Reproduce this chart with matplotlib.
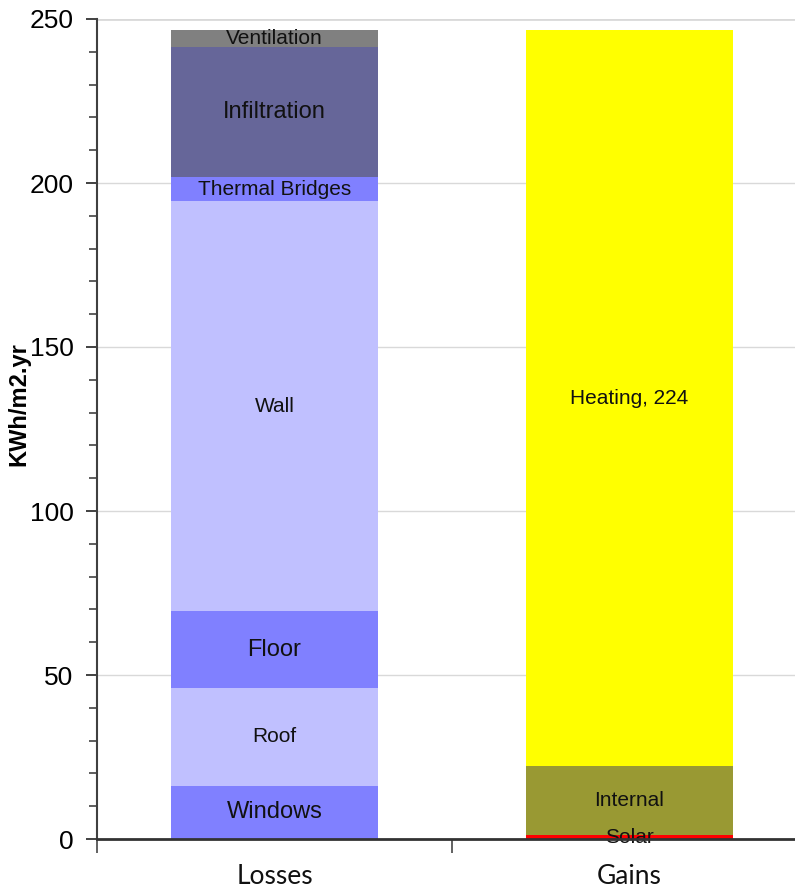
import numpy as np
import matplotlib.pyplot as plt
from matplotlib.ticker import MultipleLocator

categories = ['Losses', 'Gains']

loss_names = ['Windows', 'Roof', 'Floor', 'Wall', 'Thermal Bridges',
              'Infiltration', 'Ventilation']
loss_values = [16.2, 29.8, 23.5, 125.0, 7.3, 39.7, 5.2]
loss_colors = ['#8080ff', '#c0c0ff', '#8080ff', '#c0c0ff', '#8080ff',
               '#666699', '#808080']
loss_sizes = [17, 15, 17, 15, 15, 17, 15]

gain_names = ['Solar', 'Internal', 'Heating, 224']
gain_values = [1.2, 21.0, 224.5]
gain_colors = ['#ff0000', '#999933', '#ffff00']
gain_sizes = [15, 15, 15]


def stack(ax, x, names, values, colors, sizes, width):
    bottom = 0
    for name, v, c, fs in zip(names, values, colors, sizes):
        ax.bar(x, v, width, bottom=bottom, color=c, edgecolor='none', zorder=2)
        ax.text(x, bottom + v / 2, name, ha='center', va='center',
                fontsize=fs, family='Liberation Sans', color='#111111', zorder=3)
        bottom += v


def main():
    plt.rcParams['font.family'] = 'Liberation Sans'
    fig = plt.figure(figsize=(7.95, 8.96), dpi=100)
    ax = fig.add_axes([97 / 795, 57 / 896, 710 / 795, 820 / 896])

    width = 0.583
    stack(ax, 0, loss_names, loss_values, loss_colors, loss_sizes, width)
    stack(ax, 1, gain_names, gain_values, gain_colors, gain_sizes, width)

    ax.set_xlim(-0.5, 1.5)
    ax.set_ylim(0, 250)
    ax.yaxis.set_major_locator(MultipleLocator(50))
    ax.yaxis.set_minor_locator(MultipleLocator(10))
    ax.tick_params(axis='y', which='major', length=8, width=1.3,
                   labelsize=19, pad=9, color='#333333')
    ax.tick_params(axis='y', which='minor', length=6, width=1.1, color='#333333')

    # category boundaries as ticks, names on minor ticks
    ax.set_xticks([-0.5, 0.5, 1.5])
    ax.set_xticklabels([])
    ax.set_xticks([0, 1], minor=True)
    ax.set_xticklabels(categories, minor=True, fontsize=19, family='Lato',
                       color='#111111')
    ax.tick_params(axis='x', which='major', length=10, width=1.3, color='#555555')
    ax.tick_params(axis='x', which='minor', length=0, pad=18)

    for y in range(50, 251, 50):
        ax.axhline(y, color='#d9d9d9', lw=1.0 if y < 250 else 2.0, zorder=1)

    for s in ['top', 'right']:
        ax.spines[s].set_visible(False)
    ax.spines['left'].set_color('#404040')
    ax.spines['left'].set_linewidth(1.5)
    ax.spines['bottom'].set_color('#333333')
    ax.spines['bottom'].set_linewidth(2)
    ax.spines['bottom'].set_zorder(4)

    ax.set_ylabel('KWh/m2.yr', fontsize=17, fontweight='bold')
    ax.yaxis.set_label_coords(-0.094, 0.53)

    fig.savefig('out.png', dpi=100)


if __name__ == '__main__':
    main()
